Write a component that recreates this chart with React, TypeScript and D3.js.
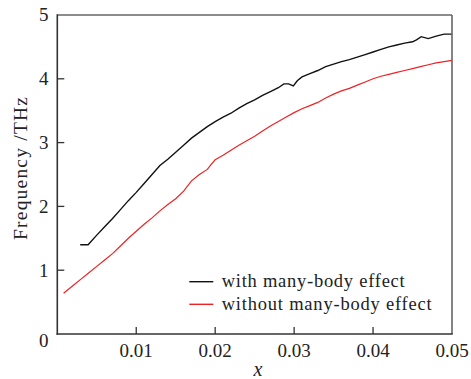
import React from "react";
import * as d3 from "d3";

const xTicks = [0.01, 0.02, 0.03, 0.04, 0.05];
const yTicks = [0, 1, 2, 3, 4, 5];

const withX = [0.0029, 0.0039, 0.005, 0.006, 0.007, 0.008, 0.009, 0.010, 0.011, 0.012, 0.013, 0.014, 0.015, 0.016, 0.017, 0.018, 0.019, 0.020, 0.021, 0.022, 0.023, 0.024, 0.025, 0.026, 0.027, 0.028, 0.0287, 0.0293, 0.0299, 0.0304, 0.031, 0.032, 0.033, 0.034, 0.035, 0.036, 0.037, 0.038, 0.039, 0.040, 0.041, 0.042, 0.043, 0.044, 0.045, 0.0455, 0.0461, 0.0470, 0.048, 0.049, 0.050];
const withY = [1.40, 1.40, 1.55, 1.68, 1.81, 1.95, 2.09, 2.22, 2.36, 2.50, 2.64, 2.74, 2.85, 2.96, 3.07, 3.16, 3.25, 3.33, 3.40, 3.46, 3.54, 3.61, 3.67, 3.74, 3.80, 3.86, 3.92, 3.92, 3.89, 3.97, 4.03, 4.08, 4.13, 4.19, 4.23, 4.27, 4.30, 4.34, 4.38, 4.42, 4.46, 4.50, 4.53, 4.56, 4.58, 4.61, 4.66, 4.63, 4.67, 4.70, 4.70];

const withoutX = [0.0008, 0.002, 0.003, 0.004, 0.005, 0.006, 0.007, 0.008, 0.009, 0.010, 0.011, 0.012, 0.013, 0.014, 0.015, 0.016, 0.017, 0.018, 0.019, 0.0195, 0.020, 0.021, 0.022, 0.023, 0.024, 0.025, 0.026, 0.027, 0.028, 0.029, 0.030, 0.031, 0.032, 0.033, 0.034, 0.035, 0.036, 0.037, 0.038, 0.039, 0.040, 0.041, 0.042, 0.043, 0.044, 0.045, 0.046, 0.047, 0.048, 0.049, 0.050];
const withoutY = [0.64, 0.76, 0.86, 0.96, 1.06, 1.16, 1.26, 1.38, 1.50, 1.61, 1.72, 1.82, 1.93, 2.03, 2.12, 2.24, 2.40, 2.50, 2.58, 2.66, 2.73, 2.80, 2.88, 2.96, 3.03, 3.10, 3.18, 3.26, 3.33, 3.40, 3.47, 3.53, 3.58, 3.63, 3.70, 3.76, 3.81, 3.85, 3.90, 3.95, 4.00, 4.04, 4.07, 4.10, 4.13, 4.16, 4.19, 4.22, 4.25, 4.27, 4.29];

const seriesNames = ["with many-body effect", "without many-body effect"];
const seriesColors = ["#111111", "#ee2222"];

const W = 471, H = 379;
const left = 57.3, right = 452, top = 15, bottom = 334;
const font = "'Liberation Serif', 'Times New Roman', serif";

export default function App() {
  const x = d3.scaleLinear().domain([0, 0.05]).range([left, right]);
  const y = d3.scaleLinear().domain([0, 5]).range([bottom, top]);
  const line = d3.line<[number, number]>().x(d => x(d[0])).y(d => y(d[1]));
  const s1 = withX.map((v, i) => [v, withY[i]] as [number, number]);
  const s2 = withoutX.map((v, i) => [v, withoutY[i]] as [number, number]);
  const legendLens = [183, 210];

  return (
    <svg width={W} height={H} style={{ position: "absolute", left: 0, top: 0, background: "#fff" }}>
      <path d={line(s2) || ""} fill="none" stroke={seriesColors[1]} strokeWidth={1.2} />
      <path d={line(s1) || ""} fill="none" stroke={seriesColors[0]} strokeWidth={1.4} />
      {/* frame */}
      <line x1={left} x2={right} y1={top} y2={top} stroke="#666" strokeWidth={1.6} />
      <line x1={right} x2={right} y1={top} y2={bottom} stroke="#666" strokeWidth={1.6} />
      <line x1={left} x2={left} y1={top - 0.8} y2={bottom + 0.8} stroke="#333" strokeWidth={1.6} />
      <line x1={left - 0.8} x2={right + 0.8} y1={bottom} y2={bottom} stroke="#333" strokeWidth={1.6} />
      {xTicks.slice(0, 4).map(t => (
        <line key={"xt" + t} x1={x(t)} x2={x(t)} y1={bottom} y2={bottom - 7} stroke="#333" strokeWidth={1.3} />
      ))}
      {yTicks.slice(1, 5).map(t => (
        <line key={"yt" + t} x1={left} x2={left + 7} y1={y(t)} y2={y(t)} stroke="#333" strokeWidth={1.3} />
      ))}
      {xTicks.map(t => (
        <text key={"xl" + t} x={x(t)} y={357} textAnchor="middle" fontFamily={font} fontSize={19} fill="#222">
          {d3.format(".2f")(t)}
        </text>
      ))}
      {yTicks.map(t => (
        <text key={"yl" + t} x={48.5} y={t === 0 ? 347 : y(t) + 6.3} textAnchor="end" fontFamily={font} fontSize={19} fill="#222">
          {t}
        </text>
      ))}
      <text x={258} y={376} textAnchor="middle" fontFamily={font} fontStyle="italic" fontSize={20} fill="#222">x</text>
      <text transform="translate(27,168.5) rotate(-90)" textAnchor="middle" fontFamily={font} fontSize={19.5}
        textLength={143} lengthAdjust="spacing" fill="#222">
        Frequency /THz
      </text>
      {seriesNames.map((n, i) => (
        <g key={n}>
          <line x1={189.3} x2={213.3} y1={281.7 + i * 22.6} y2={281.7 + i * 22.6} stroke={seriesColors[i]} strokeWidth={1.4} />
          <text x={221.7} y={287 + i * 22.6} fontFamily={font} fontSize={18.5} textLength={legendLens[i]}
            lengthAdjust="spacing" fill="#222">{n}</text>
        </g>
      ))}
    </svg>
  );
}
